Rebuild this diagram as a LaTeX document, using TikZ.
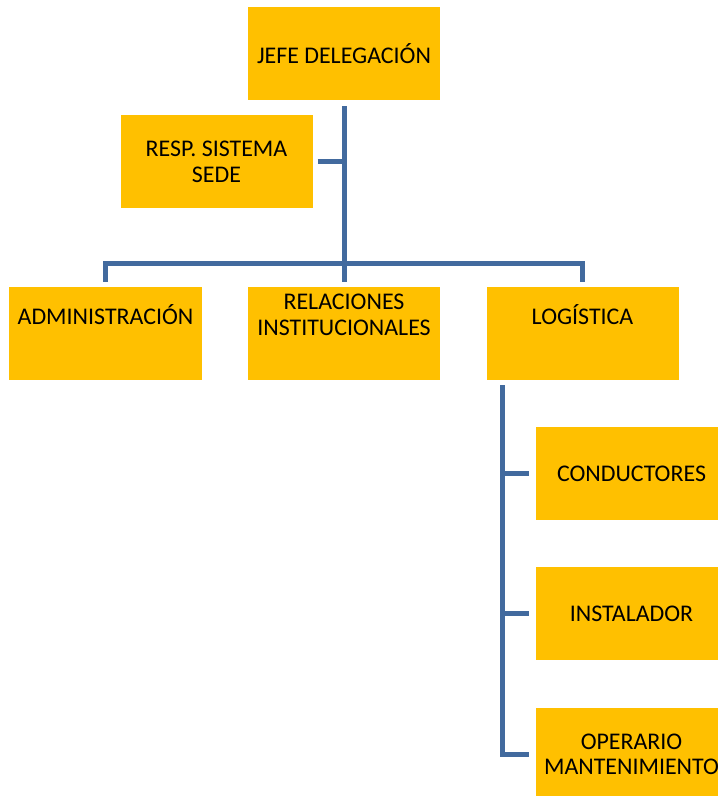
\documentclass[tikz,border=0pt]{standalone}
\usepackage{fontspec}
\setmainfont{Carlito}
\usetikzlibrary{positioning}
\definecolor{boxgold}{RGB}{255,192,0}
\definecolor{linkblue}{RGB}{66,106,158}

\begin{document}
\begin{tikzpicture}[x=1bp,y=-1bp]
        \useasboundingbox (0,0) rectangle (718,796);
        \clip (0,0) rectangle (718,796);

        % boxes
        \begin{scope}[every node/.style={rectangle,fill=boxgold,inner sep=0pt,
            minimum width=192bp,minimum height=93bp,align=center,
            font=\fontsize{24}{26}\selectfont}]
            \node (jefe) at (344,53.5) {JEFE DELEGACIÓN};
            \node (resp) at (216.5,161.5) {RESP. SISTEMA\\SEDE};
            \node (admin) at (105.5,333.5) {};
            \node (rel) at (344,333.5) {};
            \node (log) at (582.5,333.5) {};
            \node (cond) at (631.5,473.5) {CONDUCTORES};
            \node (inst) [below=47bp of cond] {INSTALADOR};
            \node (oper) [below=47bp of inst] {OPERARIO\\MANTENIMIENTO};
        \end{scope}

        % texts of the middle row sit high in their boxes
        \begin{scope}[every node/.style={inner sep=0pt,align=center,
            font=\fontsize{24}{26}\selectfont}]
            \node (admintxt) at (105.5,315) {ADMINISTRACIÓN};
            \node (reltxt) at (344,315) {RELACIONES\\INSTITUCIONALES};
            \node (logtxt) at (582.5,315) {LOGÍSTICA};
        \end{scope}

        % connectors
        \begin{scope}[linkblue,line width=5bp]
            \coordinate (bus) at (344,263);
            \coordinate (logtrunk) at ([xshift=16bp]log.south west);
            \draw ([yshift=-6bp]jefe.south) -- ([yshift=5bp]rel.north);
            \draw ([xshift=5bp]resp.east) -- (resp.east -| jefe.south);
            \draw ([yshift=5bp]admin.north) |- (bus) -| ([yshift=5bp]log.north);
            \draw ([yshift=-5bp]logtrunk) |- ([xshift=-6bp]oper.west);
            \foreach \n in {cond,inst}
                \draw (logtrunk |- \n.west) -- ([xshift=-6bp]\n.west);
        \end{scope}
\end{tikzpicture}
\end{document}
